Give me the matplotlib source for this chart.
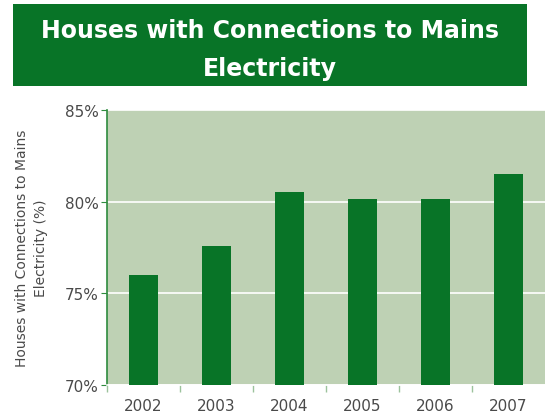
import matplotlib.pyplot as plt
from matplotlib.patches import Rectangle
from matplotlib.ticker import FixedLocator

years = ["2002", "2003", "2004", "2005", "2006", "2007"]
share = [76.0, 77.6, 80.5, 80.15, 80.15, 81.5]

green = "#087427"
panel = "#BED1B4"
grey = "#4A4A4A"

fig = plt.figure(figsize=(5.47, 4.14), dpi=100)

# title banner
fig.patches.append(Rectangle((0.0238, 0.79), 0.9397, 0.198, transform=fig.transFigure,
                             facecolor=green, edgecolor="none", zorder=0))
fig.text(0.494, 0.926, "Houses with Connections to Mains", ha="center", va="center",
         color="white", fontsize=17, fontweight="bold")
fig.text(0.494, 0.834, "Electricity", ha="center", va="center",
         color="white", fontsize=17, fontweight="bold")

ax = fig.add_axes([0.1956, 0.0676, 0.8007, 0.6643])
ax.set_facecolor(panel)
x = list(range(len(years)))
ax.bar(x, [v - 70 for v in share], bottom=70, width=0.41, color=green, zorder=3)

ax.set_xlim(-0.5, len(years) - 0.5)
ax.set_ylim(70, 85)
ax.set_yticks([70, 75, 80, 85])
ax.set_yticklabels(["70%", "75%", "80%", "85%"])
ax.set_xticks(x)
ax.set_xticklabels(years)
ax.xaxis.set_minor_locator(FixedLocator([i - 0.5 for i in range(len(years))]))
ax.tick_params(axis="x", which="major", length=0, labelsize=11, labelcolor=grey, pad=9)
ax.tick_params(axis="x", which="minor", length=5, color="#9CC29C", width=1)
ax.tick_params(axis="y", length=4, color="#2E8B3E", labelsize=11, labelcolor=grey, pad=2)

ax.grid(axis="y", color="white", linewidth=1.2, zorder=1)
ax.set_axisbelow(True)
for s in ["top", "right"]:
    ax.spines[s].set_visible(False)
ax.spines["left"].set_color("#2E8B3E")
ax.spines["left"].set_linewidth(1.2)
ax.spines["bottom"].set_color("white")
ax.spines["bottom"].set_linewidth(1.2)

ax.set_ylabel("Houses with Connections to Mains\nElectricity (%)", fontsize=10,
              color=grey, labelpad=12, linespacing=1.5)

fig.savefig("out.png", dpi=100)
